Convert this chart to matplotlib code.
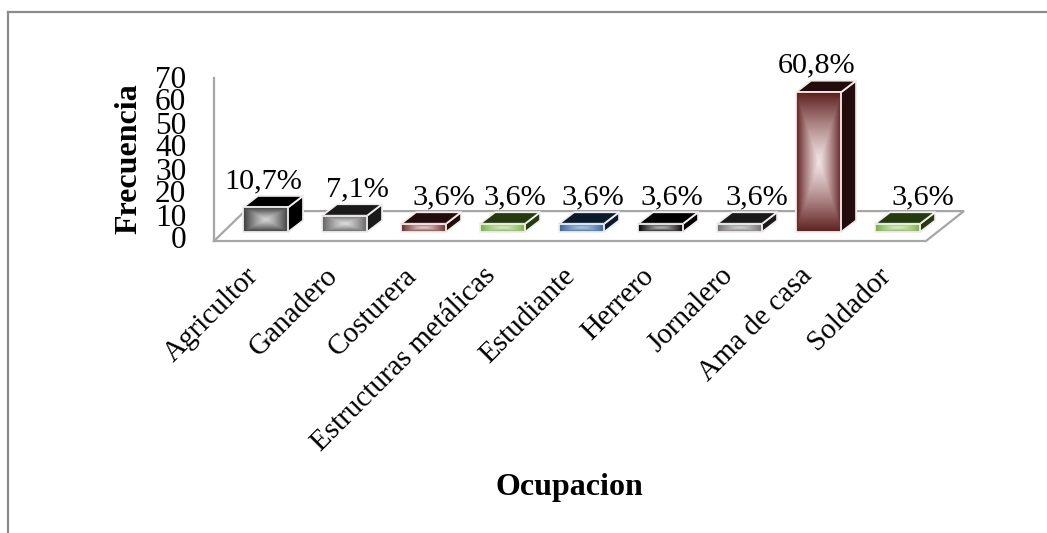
import numpy as np
import matplotlib
matplotlib.use("Agg")
import matplotlib.pyplot as plt
from matplotlib.colors import to_rgb
from matplotlib.lines import Line2D
from matplotlib.patches import Polygon
from matplotlib.transforms import ScaledTranslation

categories = ["Agricultor", "Ganadero", "Costurera", "Estructuras metálicas",
              "Estudiante", "Herrero", "Jornalero", "Ama de casa", "Soldador"]
percentages = [10.7, 7.1, 3.6, 3.6, 3.6, 3.6, 3.6, 60.8, 3.6]
value_labels = ["10,7%", "7,1%", "3,6%", "3,6%", "3,6%", "3,6%", "3,6%", "60,8%", "3,6%"]
y_ticks = [0, 10, 20, 30, 40, 50, 60, 70]

edge_colors = ["#3a3a3a", "#626262", "#6a2a2a", "#76b043", "#31649e",
               "#000000", "#707070", "#602020", "#76b043"]
center_colors = ["#d4d4d4", "#dcdcdc", "#e8cccc", "#d6ecc0", "#a9c6e4",
                 "#b4b4b4", "#d0d0d0", "#f3e2e2", "#d6ecc0"]
dark_colors = ["#000000", "#1a1a1a", "#240c0c", "#243b10", "#0b1b2e",
               "#000000", "#1a1a1a", "#240c0c", "#243b10"]
label_shift_px = [-2, 13, 20, 12, 11, 11, 17, -2, 25]

W, H = 1047, 533
AXIS_LEFT, AXIS_RIGHT, AXIS_BOTTOM, AXIS_TOP = 214, 926, 241, 80

BAR_WIDTH = 0.57
BASE = 3.9        # front bar edge sits above the front floor edge
DEPTH_X = 0.19    # oblique offset of the bar depth
DEPTH_Y = 5.0
GRID = "#a6a6a6"
OUTLINE = "#f2eeee"

plt.rcParams["font.family"] = ["Liberation Serif", "DejaVu Serif"]

fig = plt.figure(figsize=(W / 100, H / 100), dpi=100, facecolor="white")
ax = fig.add_axes([AXIS_LEFT / W, 1 - AXIS_BOTTOM / H,
                   (AXIS_RIGHT - AXIS_LEFT) / W, (AXIS_BOTTOM - AXIS_TOP) / H])
ax.patch.set_visible(False)
xlim = (-0.652, 8.36)
ylim = (0, 70)

# outer chart frame
for xs, ys in (([8, 8], [11.5, H]), ([8, W], [11.5, 11.5])):
    fig.add_artist(Line2D([x / W for x in xs], [1 - y / H for y in ys],
                          color="#8c8c8c", lw=1.6))

# wall and floor of the oblique plot box
floor_back = 13.0
ax.plot([xlim[0], xlim[0]], [0, 70.9], color=GRID, lw=1.6, clip_on=False, zorder=1)
ax.plot([xlim[0], xlim[1], xlim[1] + 0.48, xlim[0] + 0.39, xlim[0]],
        [0, 0, floor_back, floor_back, 0],
        color=GRID, lw=1.6, clip_on=False, zorder=1, solid_joinstyle="miter")


def box_gradient(edge, center, nx=90, ny=90):
    """Rectangular gradient, bright in the middle and dark along the border."""
    u = np.abs(np.linspace(-1, 1, nx))
    v = np.abs(np.linspace(-1, 1, ny))
    t = np.maximum(u[None, :], v[:, None])[..., None] ** 1.2
    e, c = np.array(to_rgb(edge)), np.array(to_rgb(center))
    return c * (1 - t) + e * t


for i, val in enumerate(percentages):
    x0, x1 = i - BAR_WIDTH / 2, i + BAR_WIDTH / 2
    y0, y1 = BASE, BASE + val
    side = [(x1, y0), (x1 + DEPTH_X, y0 + DEPTH_Y), (x1 + DEPTH_X, y1 + DEPTH_Y), (x1, y1)]
    top = [(x0, y1), (x1, y1), (x1 + DEPTH_X, y1 + DEPTH_Y), (x0 + DEPTH_X, y1 + DEPTH_Y)]
    for pts in (side, top):
        ax.add_patch(Polygon(pts, closed=True, facecolor=dark_colors[i], edgecolor=OUTLINE,
                             lw=1.3, clip_on=False, zorder=3, joinstyle="round"))
    ax.imshow(box_gradient(edge_colors[i], center_colors[i]), extent=(x0, x1, y0, y1),
              aspect="auto", interpolation="bilinear", clip_on=False, zorder=4)
    ax.add_patch(Polygon([(x0, y0), (x1, y0), (x1, y1), (x0, y1)], closed=True, fill=False,
                         edgecolor=OUTLINE, lw=1.3, clip_on=False, zorder=5))
    ax.annotate(value_labels[i], xy=(i, y1 + DEPTH_Y),
                xytext=(label_shift_px[i] * 0.72, 8 * 0.72), textcoords="offset points",
                ha="center", va="baseline", fontsize=21.8, color="black", zorder=6)

ax.set_xlim(*xlim)
ax.set_ylim(*ylim)
for spine in ax.spines.values():
    spine.set_visible(False)

ax.set_yticks(y_ticks)
ax.set_xticks(range(len(categories)))
ax.set_xticklabels(categories, rotation=45, ha="right", va="top", rotation_mode="anchor")
ax.tick_params(axis="y", length=0, pad=20, labelsize=22.5)
ax.tick_params(axis="x", length=0, pad=22, labelsize=21)
for lab in ax.get_yticklabels():
    lab.set_verticalalignment("center")

# slant labels end a little to the left of their bars
shift = ScaledTranslation(-20 / 100, 9 / 100, fig.dpi_scale_trans)
for lab in ax.get_xticklabels():
    lab.set_transform(lab.get_transform() + shift)

fig.text(129 / W, 1 - 159 / H, "Frecuencia", rotation=90, ha="center", va="center",
         fontsize=23, fontweight="bold")
fig.text(569 / W, 1 - 487 / H, "Ocupacion", ha="center", va="center",
         fontsize=23, fontweight="bold")

fig.savefig("out.png", dpi=100, facecolor="white")
